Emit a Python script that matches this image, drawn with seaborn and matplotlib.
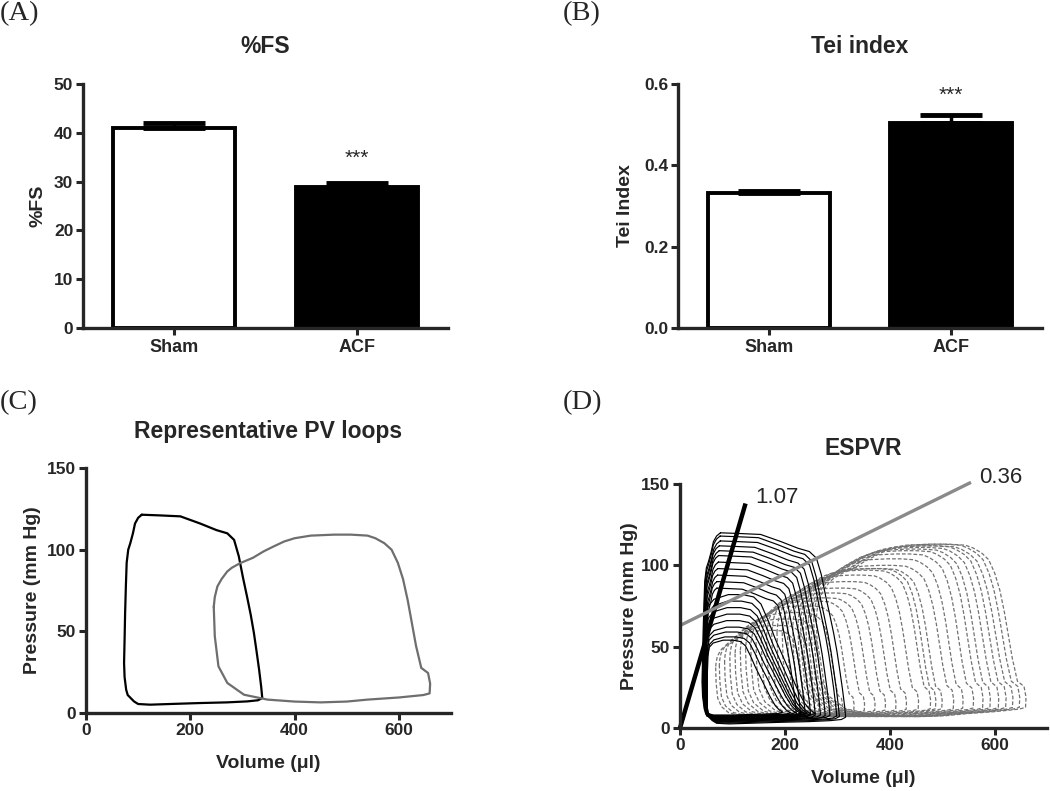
import numpy as np
import pandas as pd
import seaborn as sns
import matplotlib.pyplot as plt

sns.set_style("ticks")
plt.rcParams["font.family"] = ["Liberation Sans", "DejaVu Sans"]
plt.rcParams["font.weight"] = "bold"
plt.rcParams["axes.linewidth"] = 2.4

# (A) fractional shortening
groups = ["Sham", "ACF"]
fs_mean = [41.0, 28.9]
fs_sem = [1.0, 0.85]

# (B) Tei index
tei_mean = [0.331, 0.503]
tei_sem = [0.006, 0.021]

# (C) representative loops
sham_vol = [107, 140, 181, 219, 250, 271, 284, 293, 301, 309, 316, 322, 327, 332, 336, 338,
            330, 309, 270, 219, 170, 123, 100, 92, 80, 77, 74, 73, 74, 75, 76.5, 78, 81, 85,
            90, 94, 100, 107]
sham_pres = [121.4, 121, 120.4, 116, 112, 110, 106, 96, 83, 71, 60, 49, 38, 26.5, 16, 9.2,
             7.8, 7.1, 6.5, 6.1, 5.6, 5.1, 5.5, 7.1, 11, 14.3, 22, 30.6, 45, 61, 78, 92, 100,
             104, 110, 116, 119.5, 121.4]
acf_vol = [245, 247, 254, 271, 303, 348, 400, 450, 500, 540, 600, 647, 659, 660, 656, 643,
           633, 625, 617, 608, 598, 586, 572, 555, 540, 508, 476, 431, 400, 380, 360, 341,
           320, 296, 280, 271, 260, 252, 247, 245]
acf_pres = [65, 47, 28.6, 18.4, 11.2, 8.2, 7, 6.5, 7, 8.2, 9.5, 11, 12, 18, 24.5, 27.6,
            41, 55, 69, 82, 92, 100, 104, 107, 108.6, 109.2, 109.2, 108.6, 107, 105, 102, 99,
            95, 91.8, 89, 86.7, 82, 77.5, 71, 65]

# (D) outline of the smallest sham loop during occlusion
small_vol = [48, 48, 49, 52, 60, 80, 100, 115, 125, 135, 145, 155, 165, 175, 185, 193, 200,
             190, 150, 100, 60, 50, 48]
small_pres = [10, 30, 45, 52, 55, 57, 57, 56, 53, 46, 38, 31, 24, 17, 11, 8, 6.5, 5.5, 5,
              4.5, 4.5, 5.5, 10]

# (D) occlusion loops: volume range and pressure range of each loop
sham_big_vmin = [42, 43, 44, 44, 45, 45, 46, 46, 47, 47, 48]
sham_big_vmax = [316, 304, 299, 286, 277, 268, 258, 249, 239, 230, 222]
sham_big_pmin = [2.5, 3, 3.5, 4, 4, 4.5, 4.5, 5, 5, 5.5, 5.5]
sham_big_pmax = [120, 118, 115, 112, 109, 106, 102, 98, 94, 90, 86]

sham_small_vmin = [48, 49, 49, 50, 50, 51, 51, 52, 52]
sham_small_vmax = [258, 249, 243, 238, 234, 230, 221, 211, 196]
sham_small_pmin = [6, 6, 6.5, 6.5, 7, 7, 7.5, 7.5, 8]
sham_small_pmax = [82, 78, 74, 70, 66, 62, 59, 56, 54]

acf_occ_vmin = [260, 255, 250, 245, 240, 235, 230, 225, 215, 205, 195, 185, 175, 165, 155,
                145, 135, 125, 115, 105, 95, 85, 75, 68]
acf_occ_vmax = [660, 648, 635, 622, 608, 592, 578, 560, 540, 522, 500, 488, 478, 455, 432,
                412, 392, 372, 352, 332, 310, 288, 265, 245]
acf_occ_pmin = [7] * 24
acf_occ_pmax = [113, 113, 112, 112, 111, 110, 109, 107, 104, 100, 98, 98, 97, 94, 90, 86,
                83, 80, 78, 75, 71, 67, 63, 60]

espvr_sham = ([0, 125], [0, 138])
espvr_acf = ([0, 555], [63, 151])


def loop_family(tmpl_v, tmpl_p, vmin, vmax, pmin, pmax, start=0):
    tv = np.asarray(tmpl_v, float)
    tp = np.asarray(tmpl_p, float)
    tv = (tv - tv.min()) / (tv.max() - tv.min())
    tp = (tp - tp.min()) / (tp.max() - tp.min())
    rows = []
    for i in range(len(vmin)):
        v = vmin[i] + tv * (vmax[i] - vmin[i])
        p = pmin[i] + tp * (pmax[i] - pmin[i])
        rows.append(pd.DataFrame({"volume": v, "pressure": p, "loop": start + i}))
    return pd.concat(rows, ignore_index=True)


def style_axes(ax):
    sns.despine(ax=ax)
    ax.tick_params(direction="out", length=5, width=2.2, pad=2, labelsize=12.5)
    for lab in ax.get_xticklabels() + ax.get_yticklabels():
        lab.set_fontweight("bold")


def panel_title(ax, text, y):
    ax.text(0.5, y, text, transform=ax.transAxes, ha="center", va="center",
            fontsize=16.5, fontweight="bold")


def bar_panel(ax, means, sems, ylim, yticks, ylabel, star_y, label_x):
    sns.barplot(x=groups, y=means, hue=groups, palette=["white", "black"], legend=False,
                edgecolor="black", linewidth=2.8, width=0.67, errorbar=None, ax=ax)
    ax.errorbar([0, 1], means, yerr=[[0, 0], sems], fmt="none", ecolor="black",
                elinewidth=2.5, capsize=22, capthick=3.5, zorder=1)
    ax.set_xlim(-0.5, 1.5)
    ax.set_ylim(*ylim)
    ax.set_yticks(yticks)
    ax.set_ylabel(ylabel, fontsize=14, fontweight="bold")
    ax.yaxis.set_label_coords(label_x, 0.5)
    ax.text(1, star_y, "***", ha="center", va="center", fontsize=15, fontweight="normal")
    style_axes(ax)
    ax.tick_params(axis="x", labelsize=13, pad=3)


fig = plt.figure(figsize=(10.5, 7.91), dpi=100)
W, H = 1050, 791


def px_axes(left, right, top, bottom):
    return fig.add_axes([left / W, 1 - bottom / H, (right - left) / W, (bottom - top) / H])


ax_a = px_axes(83, 448, 84, 328)
ax_b = px_axes(678, 1042, 84, 328)
ax_c = px_axes(86, 451, 468, 713)
ax_d = px_axes(680, 1047, 484, 728)

bar_panel(ax_a, fs_mean, fs_sem, (0, 50), [0, 10, 20, 30, 40, 50], "%FS", 34.7, -0.101)
ax_a.set_yticklabels(["0", "10", "20", "30", "40", "50"], fontweight="bold")
panel_title(ax_a, "%FS", 1.154)

bar_panel(ax_b, tei_mean, tei_sem, (0, 0.6), [0.0, 0.2, 0.4, 0.6], "Tei Index", 0.573, -0.121)
ax_b.set_yticklabels(["0.0", "0.2", "0.4", "0.6"], fontweight="bold")
panel_title(ax_b, "Tei index", 1.154)

# (C)
df_sham = pd.DataFrame({"volume": sham_vol, "pressure": sham_pres})
df_acf = pd.DataFrame({"volume": acf_vol, "pressure": acf_pres})
sns.lineplot(data=df_sham, x="volume", y="pressure", sort=False, estimator=None,
             color="black", linewidth=1.6, ax=ax_c)
sns.lineplot(data=df_acf, x="volume", y="pressure", sort=False, estimator=None,
             color="#6e6e6e", linewidth=1.6, ax=ax_c)
ax_c.set_xlim(0, 700)
ax_c.set_ylim(0, 150)
ax_c.set_xticks([0, 200, 400, 600])
ax_c.set_yticks([0, 50, 100, 150])
ax_c.set_xlabel("Volume (\u03bcl)", fontsize=14, fontweight="bold")
ax_c.set_ylabel("Pressure (mm Hg)", fontsize=14, fontweight="bold")
ax_c.xaxis.set_label_coords(0.5, -0.171)
ax_c.yaxis.set_label_coords(-0.123, 0.5)
style_axes(ax_c)
panel_title(ax_c, "Representative PV loops", 1.151)

# (D)
fam_acf = loop_family(acf_vol, acf_pres, acf_occ_vmin, acf_occ_vmax,
                      acf_occ_pmin, acf_occ_pmax)
fam_sham = pd.concat([
    loop_family(sham_vol, sham_pres, sham_big_vmin, sham_big_vmax,
                sham_big_pmin, sham_big_pmax),
    loop_family(small_vol, small_pres, sham_small_vmin, sham_small_vmax,
                sham_small_pmin, sham_small_pmax, start=len(sham_big_vmin)),
], ignore_index=True)
sns.lineplot(data=fam_acf, x="volume", y="pressure", units="loop", sort=False,
             estimator=None, color="#727272", linewidth=0.9, ax=ax_d)
for line in ax_d.get_lines():
    line.set_linestyle((0, (3, 1.6)))
sns.lineplot(data=fam_sham, x="volume", y="pressure", units="loop", sort=False,
             estimator=None, color="black", linewidth=0.85, ax=ax_d)
ax_d.plot(*espvr_sham, color="black", linewidth=3.2, solid_capstyle="butt", clip_on=False)
ax_d.plot(*espvr_acf, color="#8a8a8a", linewidth=2.4, solid_capstyle="butt", clip_on=False)
ax_d.text(143.5, 141.4, "1.07", fontsize=16, fontweight="normal", va="center", ha="left")
ax_d.text(570, 154, "0.36", fontsize=16, fontweight="normal", va="center", ha="left",
          clip_on=False)
ax_d.set_xlim(0, 700)
ax_d.set_ylim(0, 150)
ax_d.set_xticks([0, 200, 400, 600])
ax_d.set_yticks([0, 50, 100, 150])
ax_d.set_xlabel("Volume (\u03bcl)", fontsize=14, fontweight="bold")
ax_d.set_ylabel("Pressure (mm Hg)", fontsize=14, fontweight="bold")
ax_d.xaxis.set_label_coords(0.5, -0.172)
ax_d.yaxis.set_label_coords(-0.114, 0.5)
style_axes(ax_d)
panel_title(ax_d, "ESPVR", 1.146)

serif = ["Liberation Serif", "DejaVu Serif"]
for x, y, lab in [(0, 14, "(A)"), (563, 14, "(B)"), (0, 403, "(C)"), (563, 403, "(D)")]:
    fig.text(x / W, 1 - y / H, lab, fontsize=20.5, family=serif, fontweight="normal",
             ha="left", va="center")

fig.savefig("out.png", dpi=100)
